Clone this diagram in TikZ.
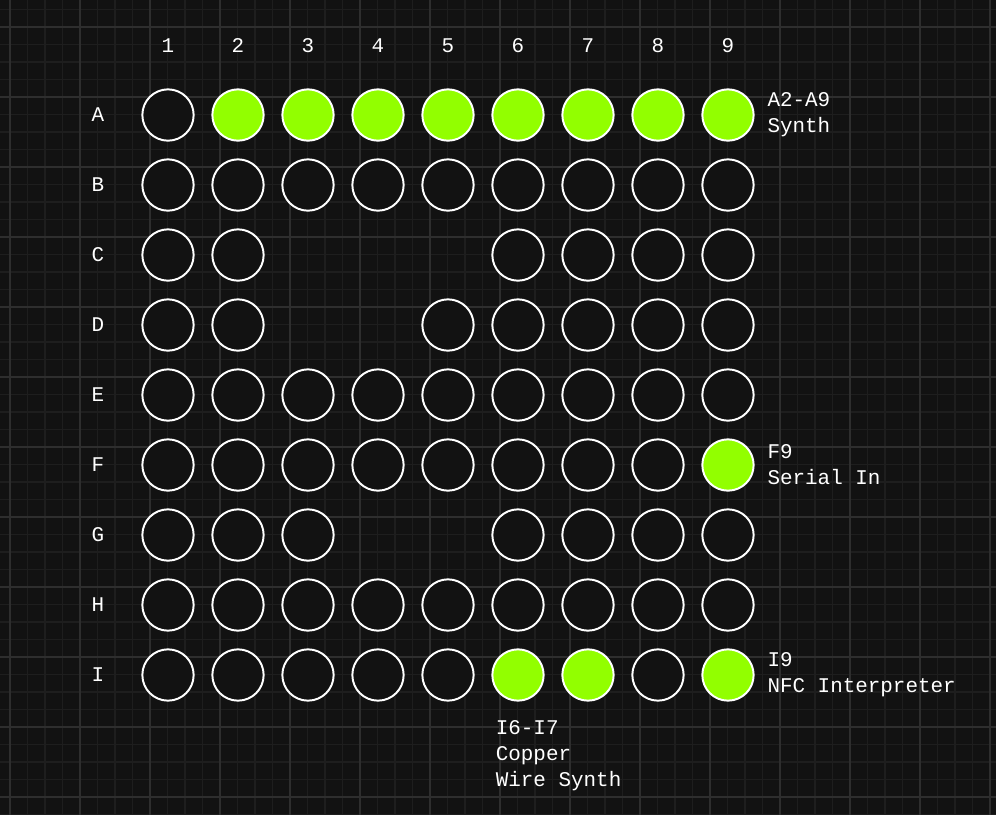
\documentclass[tikz,border=0pt]{standalone}
\usepackage{fontspec}
\setmonofont{Liberation Mono}
\usetikzlibrary{positioning}

\definecolor{boardbg}{HTML}{121212}
\definecolor{gridminor}{HTML}{1E1E1E}
\definecolor{gridmajor}{HTML}{2E2E2E}
\definecolor{pingreen}{HTML}{92FF00}

\begin{document}
\begin{tikzpicture}[
        y=-1cm,
        font=\ttfamily\fontsize{8.5}{10.6}\selectfont,
        pin/.style={circle, draw=white, line width=0.8pt, fill=boardbg, minimum size=0.733cm, inner sep=0pt},
        lit/.style={fill=pingreen},
        light/.style={lit #1/.style=lit},
        light/.list={A2,A3,A4,A5,A6,A7,A8,A9,F9,I6,I7,I9},
        axislabel/.style={text=white},
        annot/.style={text=white, align=left},
        minorgrid/.style={gridminor, line width=0.5pt},
        majorgrid/.style={gridmajor, line width=0.6pt}
    ]

    % ==========================================
    % BACKGROUND GRID
    % ==========================================
    \fill[boardbg] (0,0) rectangle (14.229,11.643);
    \begin{scope}[y=1cm]
        \clip (0,0) rectangle (14.229,-11.643);
        \draw[minorgrid, step=0.25, shift={(0.143,-0.386)}] (-1,-13) grid (15,1);
        \draw[majorgrid, step=1, shift={(0.143,-0.386)}] (-1,-13) grid (15,1);
    \end{scope}
    \useasboundingbox (0,0) rectangle (14.229,11.643);

    % ==========================================
    % COLUMN / ROW LABELS
    % ==========================================
    \foreach \c in {1,...,9}
        \node[axislabel] (col\c) at (\c+1.4, 0.657) {\c};
    \foreach \r [count=\i] in {A,...,I}
        \node[axislabel] (row\r) at (1.4, \i+0.643) {\r};

    % ==========================================
    % PINS (gaps where no pin is fitted)
    % ==========================================
    \foreach \r/\cols [count=\i] in {A/{1,...,9}, B/{1,...,9}, C/{1,2,6,7,8,9},
            D/{1,2,5,6,7,8,9}, E/{1,...,9}, F/{1,...,9}, G/{1,2,3,6,7,8,9},
            H/{1,...,9}, I/{1,...,9}}
        \foreach \c in \cols
            \node[pin, lit \r\c/.try] (\r\c) at (\c+1.4, \i+0.643) {};

    % ==========================================
    % ANNOTATIONS
    % ==========================================
    \node[annot, right=0.06cm of A9] (synth) {A2-A9\\Synth};
    \node[annot, right=0.06cm of F9] (serial) {F9\\Serial In};
    \node[annot, right=0.06cm of I9] (nfc) {I9\\NFC Interpreter};
    \node[annot, anchor=north west] (copper) at ([xshift=-0.06cm, yshift=-0.15cm]I6.south -| I6.west) {I6-I7\\Copper\\Wire Synth};

\end{tikzpicture}
\end{document}
